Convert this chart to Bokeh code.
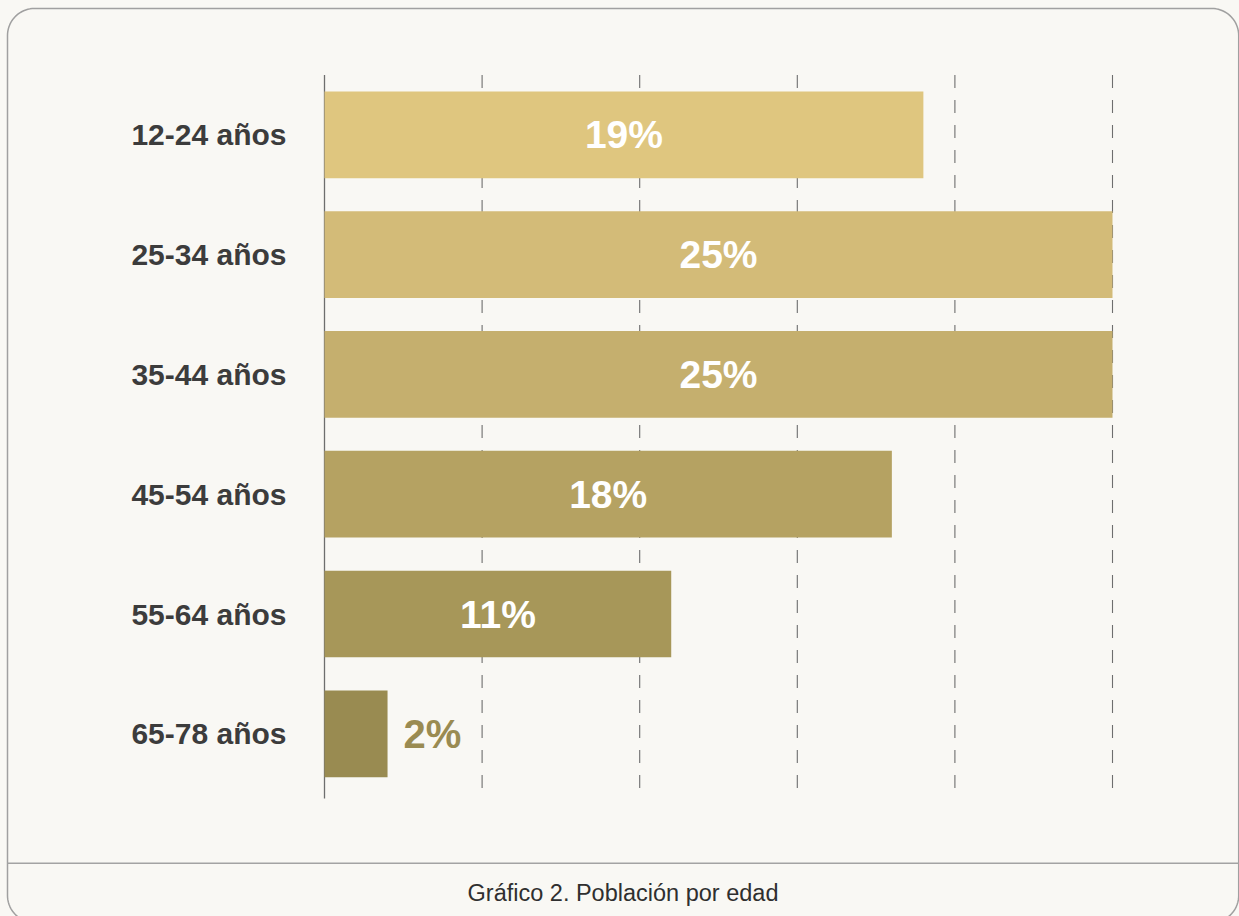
import numpy as np
from bokeh.plotting import figure
from bokeh.models import ColumnDataSource, Range1d, GlobalInlineStyleSheet
from bokeh.core.properties import value
from bokeh.embed import file_html
from bokeh.resources import INLINE

# ---- data -------------------------------------------------------------
categories = ["12-24 años", "25-34 años", "35-44 años", "45-54 años", "55-64 años", "65-78 años"]
shares = [19, 25, 25, 18, 11, 2]
bar_colors = ["#dfc67f", "#d3bb78", "#c5af6e", "#b5a262", "#a79759", "#998b51"]
grid_ticks = [0, 5, 10, 15, 20, 25]
caption = "Gráfico 2. Población por edad"

# ---- layout ------------------------------------------------------------
W, H = 1239, 916
BG = "#f9f8f4"
px_per_unit = 788 / 25.0
zero_px = 324.0           # canvas x of value 0
row_px = 119.8            # vertical distance between rows
row0_px = 134.3           # canvas y of the first row centre

x_range = Range1d(-zero_px / px_per_unit, (W - zero_px) / px_per_unit)
y_range = Range1d((H - row0_px) / row_px, -row0_px / row_px)

p = figure(width=W, height=H, x_range=x_range, y_range=y_range,
           output_backend="svg", toolbar_location=None,
           x_axis_location=None, y_axis_location=None, min_border=0,
           background_fill_color=BG, border_fill_color=BG, outline_line_color=None)
p.xgrid.visible = False
p.ygrid.visible = False
p.extra_x_ranges = {"px": Range1d(0, W)}
p.extra_y_ranges = {"px": Range1d(H, 0)}
p.stylesheets = [GlobalInlineStyleSheet(css="html, body { background-color: %s; }" % BG)]

rows = list(range(len(categories)))
FONT = value("Liberation Sans")

# ---- grid lines ----------------------------------------------------------
grid_top, grid_bottom = -0.5, 5.54
dashed = [t for t in grid_ticks if t != 0]
p.segment(x0=dashed, x1=dashed, y0=[grid_top] * len(dashed), y1=[grid_bottom] * len(dashed),
          line_color="#6e6e6e", line_width=1.1, line_dash="13 12")
p.segment(x0=[0], x1=[0], y0=[grid_top], y1=[grid_bottom], line_color="#6e6e6e", line_width=1.3)

# ---- bars ----------------------------------------------------------------
src = ColumnDataSource(dict(y=rows, right=shares, color=bar_colors, cat=categories))
p.hbar(y="y", left=0, right="right", height=0.724, fill_color="color", line_color=None, source=src)

# ---- category labels -----------------------------------------------------
p.text(x=[0] * len(rows), y=rows, text=categories, x_offset=-38,
       text_align="right", text_baseline="middle", text_color="#3c3c3c",
       text_font=FONT, text_font_style="bold", text_font_size="30px")

# ---- value labels --------------------------------------------------------
inside = [i for i, v in enumerate(shares) if v >= 5]
outside = [i for i, v in enumerate(shares) if v < 5]
p.text(x=[shares[i] / 2 for i in inside], y=[rows[i] for i in inside],
       text=["%d%%" % shares[i] for i in inside],
       text_align="center", text_baseline="middle", text_color="#ffffff",
       text_font=FONT, text_font_style="bold", text_font_size="39px")
p.text(x=[shares[i] for i in outside], y=[rows[i] for i in outside],
       text=["%d%%" % shares[i] for i in outside], x_offset=16,
       text_align="left", text_baseline="middle", text_color="#9a8b52",
       text_font=FONT, text_font_style="bold", text_font_size="40px")

# ---- frame: rounded border, separator, caption ---------------------------
def rounded_rect(l, r, t, b, rad, n=20):
    xs, ys = [], []
    for cx, cy, a0, a1 in [(r - rad, t + rad, -90, 0), (r - rad, b - rad, 0, 90),
                           (l + rad, b - rad, 90, 180), (l + rad, t + rad, 180, 270)]:
        th = np.radians(np.linspace(a0, a1, n))
        xs.extend(cx + rad * np.cos(th))
        ys.extend(cy + rad * np.sin(th))
    return xs, ys

bx, by = rounded_rect(7.0, 1238.2, 8.0, 922.0, 27)
p.patch(bx, by, fill_color=None, line_color="#a0a0a0", line_width=1.5,
        x_range_name="px", y_range_name="px")
p.segment(x0=[7], x1=[1238], y0=[862.7], y1=[862.7], line_color="#a3a3a3", line_width=1.6,
          x_range_name="px", y_range_name="px")
p.text(x=[622.5], y=[892.5], text=[caption], text_align="center", text_baseline="middle",
       text_color="#2f2f2f", text_font=FONT, text_font_size="23.5px",
       x_range_name="px", y_range_name="px")

open("out.html", "w").write(file_html(p, INLINE))
